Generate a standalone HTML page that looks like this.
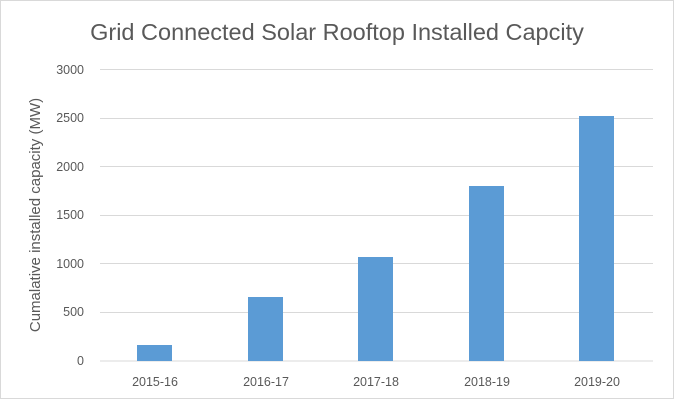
<!DOCTYPE html>
<html><head><style>body{margin:0;background:#fff}</style></head><body>
<svg width="674" height="400" xmlns="http://www.w3.org/2000/svg" font-family="Liberation Sans, sans-serif">
<rect x="0.5" y="0.5" width="673" height="398" fill="#fff" stroke="#d9d9d9"/>
<text x="337" y="40" text-anchor="middle" font-size="23.5" fill="#595959">Grid Connected Solar Rooftop Installed Capcity</text>
<g stroke="#d9d9d9" stroke-width="1">
<line x1="100" x2="653" y1="69.5" y2="69.5"/>
<line x1="100" x2="653" y1="118.5" y2="118.5"/>
<line x1="100" x2="653" y1="166.5" y2="166.5"/>
<line x1="100" x2="653" y1="215.5" y2="215.5"/>
<line x1="100" x2="653" y1="263.5" y2="263.5"/>
<line x1="100" x2="653" y1="312.5" y2="312.5"/>
<line x1="100" x2="653" y1="361" y2="361"/>
</g>
<g font-size="12.5" fill="#595959" text-anchor="end">
<text x="84" y="74">3000</text><text x="84" y="122">2500</text><text x="84" y="171">2000</text>
<text x="84" y="219">1500</text><text x="84" y="268">1000</text><text x="84" y="316">500</text><text x="84" y="365">0</text>
</g>
<text transform="translate(40,215) rotate(-90)" text-anchor="middle" font-size="15" fill="#595959">Cumalative installed capacity (MW)</text>
<g fill="#5b9bd5">
<rect x="137" y="345" width="35" height="16"/>
<rect x="248" y="297" width="35" height="64"/>
<rect x="358" y="257" width="35" height="104"/>
<rect x="469" y="186" width="35" height="175"/>
<rect x="579" y="116" width="35" height="245"/>
</g>
<g font-size="12.5" fill="#595959" text-anchor="middle">
<text x="155" y="386">2015-16</text><text x="266" y="386">2016-17</text><text x="376" y="386">2017-18</text>
<text x="487" y="386">2018-19</text><text x="597" y="386">2019-20</text>
</g>
</svg>
</body></html>
